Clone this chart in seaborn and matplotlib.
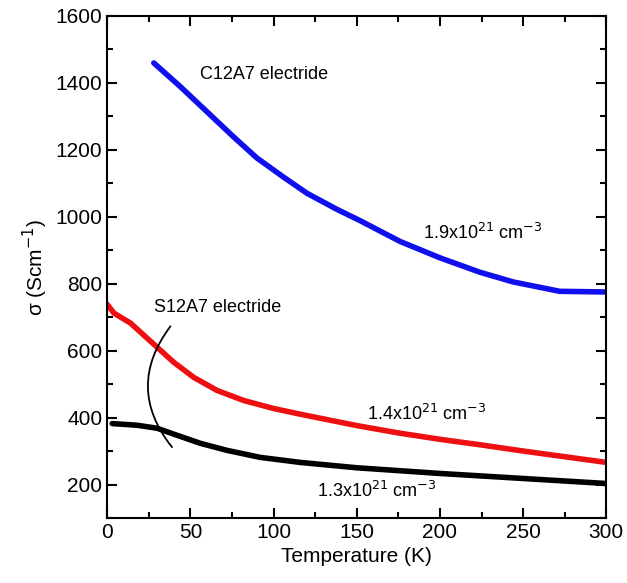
import numpy as np
import pandas as pd
import seaborn as sns
import matplotlib
matplotlib.use("Agg")
import matplotlib.pyplot as plt
from matplotlib.ticker import MultipleLocator

# curve data
t_c12a7 = [28, 44, 60, 76, 90, 106, 120, 138, 152, 176, 200, 224, 244, 272, 300]
s_c12a7 = [1459, 1388, 1313, 1238, 1175, 1118, 1070, 1022, 988, 926, 877, 834, 805, 777, 775]

t_s12a7_hi = [0, 4, 14, 22, 30, 40, 52, 66, 82, 100, 116, 134, 150, 175, 200, 225, 250, 275, 300]
s_s12a7_hi = [738, 712, 682, 646, 610, 565, 520, 481, 451, 427, 410, 392, 376, 354, 335, 318, 300, 283, 266]

t_s12a7_lo = [3, 18, 30, 42, 56, 72, 92, 116, 150, 200, 250, 300]
s_s12a7_lo = [382, 377, 368, 347, 323, 302, 281, 266, 250, 233, 218, 203]

df = pd.concat([
    pd.DataFrame({"T": t_c12a7, "sigma": s_c12a7, "s": "c12a7"}),
    pd.DataFrame({"T": t_s12a7_hi, "sigma": s_s12a7_hi, "s": "s12a7_hi"}),
    pd.DataFrame({"T": t_s12a7_lo, "sigma": s_s12a7_lo, "s": "s12a7_lo"}),
])

sns.set_style("ticks")
plt.rcParams["font.family"] = ["Liberation Sans", "DejaVu Sans"]
plt.rcParams["text.color"] = "black"
plt.rcParams["axes.labelcolor"] = "black"
plt.rcParams["xtick.color"] = "black"
plt.rcParams["ytick.color"] = "black"
plt.rcParams["axes.edgecolor"] = "black"

fig = plt.figure(figsize=(6.27, 5.83), dpi=100)
ax = fig.add_axes([0.171, 0.1115, 0.796, 0.8615])

sns.lineplot(data=df, x="T", y="sigma", hue="s",
             palette={"c12a7": "#1010ee", "s12a7_hi": "#ee1010", "s12a7_lo": "#000000"},
             linewidth=4, legend=False, ax=ax, sort=False)

ax.set_xlim(0, 300)
ax.set_ylim(100, 1600)
ax.xaxis.set_major_locator(MultipleLocator(50))
ax.xaxis.set_minor_locator(MultipleLocator(25))
ax.yaxis.set_major_locator(MultipleLocator(200))
ax.yaxis.set_minor_locator(MultipleLocator(100))
ax.tick_params(which="both", direction="in", top=True, right=True, width=1.5)
ax.tick_params(which="major", length=7, labelsize=15)
ax.tick_params(which="minor", length=4)
for sp in ax.spines.values():
    sp.set_linewidth(1.5)

ax.set_xlabel("Temperature (K)", fontsize=15)
ax.set_ylabel("σ (Scm$^{-1}$)", fontsize=15)

ax.text(56, 1424, "C12A7 electride", fontsize=13, va="center")
ax.text(190, 951, "1.9x10$^{21}$ cm$^{-3}$", fontsize=13, va="center")
ax.text(28, 730, "S12A7 electride", fontsize=13, va="center")
ax.text(156, 412, "1.4x10$^{21}$ cm$^{-3}$", fontsize=13, va="center")
ax.text(126, 182, "1.3x10$^{21}$ cm$^{-3}$", fontsize=13, va="center")

# bracket grouping the two S12A7 curves
ax.annotate("", xy=(40, 305), xytext=(39, 679),
            arrowprops=dict(arrowstyle="-", color="black", lw=1.3,
                            connectionstyle="arc3,rad=0.4"))

fig.savefig("out.png", dpi=100)
